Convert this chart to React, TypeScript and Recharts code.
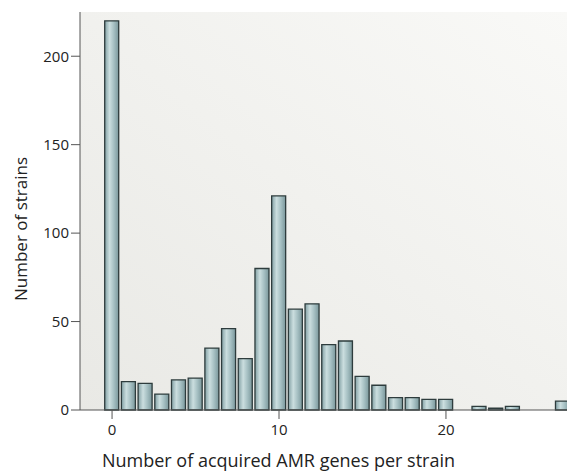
import React from 'react';
import { BarChart, Bar, XAxis, YAxis, CartesianGrid } from 'recharts';

// number of acquired AMR genes (x) and strain counts (y)
const geneCounts = [0, 1, 2, 3, 4, 5, 6, 7, 8, 9, 10, 11, 12, 13, 14, 15, 16, 17, 18, 19, 20, 21, 22, 23, 24, 25, 26, 27];
const strainCounts = [220, 16, 15, 9, 17, 18, 35, 46, 29, 80, 121, 57, 60, 37, 39, 19, 14, 7, 7, 6, 6, 0, 2, 1, 2, 0, 0, 5];
const xTicks = [0, 10, 20];
const yTicks = [0, 50, 100, 150, 200];

const data = geneCounts.map((g, i) => ({ genes: g, strains: strainCounts[i] }));

const FONT = '"Open Sans", sans-serif';
const TEXT = '#222';
const AXIS = '#555';

export default function App() {
  return (
    <div style={{ position: 'absolute', left: 0, top: 0, width: 567, height: 471, background: '#fff', fontFamily: FONT }}>
      <BarChart width={567} height={471} data={data} margin={{ top: 12, right: 0, left: 0, bottom: 31 }}>
        <defs>
          <linearGradient id="bg" x1="0" y1="1" x2="1" y2="0">
            <stop offset="0%" stopColor="#e9e9e5" />
            <stop offset="100%" stopColor="#f9f9f7" />
          </linearGradient>
          <linearGradient id="barFill" x1="0" y1="0" x2="1" y2="0">
            <stop offset="0%" stopColor="#82a0a4" />
            <stop offset="35%" stopColor="#cbdedf" />
            <stop offset="65%" stopColor="#a6c0c3" />
            <stop offset="100%" stopColor="#7a979b" />
          </linearGradient>
        </defs>
        <CartesianGrid fill="url(#bg)" horizontal={false} vertical={false} />
        <XAxis
          dataKey="genes"
          type="number"
          domain={[-1.92, 27.25]}
          allowDataOverflow
          ticks={xTicks}
          height={30}
          tickSize={9}
          tickMargin={5}
          stroke={AXIS}
          tick={{ fill: TEXT, fontSize: 15, fontFamily: FONT }}
        />
        <YAxis
          type="number"
          domain={[0, 225]}
          ticks={yTicks}
          width={80}
          tickSize={9}
          stroke={AXIS}
          tick={{ fill: TEXT, fontSize: 15, fontFamily: FONT }}
        />
        <Bar
          dataKey="strains"
          barSize={14}
          fill="url(#barFill)"
          stroke="#2e3c3d"
          strokeWidth={1.3}
          isAnimationActive={false}
        />
      </BarChart>
      <div style={{ position: 'absolute', left: 0, width: 557, top: 448, textAlign: 'center', fontSize: 18, color: TEXT, whiteSpace: 'nowrap' }}>
        Number of acquired AMR genes per strain
      </div>
      <div
        style={{
          position: 'absolute',
          left: 20,
          top: 229,
          transform: 'translate(-50%, -50%) rotate(-90deg)',
          fontSize: 17,
          color: TEXT,
          whiteSpace: 'nowrap',
        }}
      >
        Number of strains
      </div>
    </div>
  );
}
